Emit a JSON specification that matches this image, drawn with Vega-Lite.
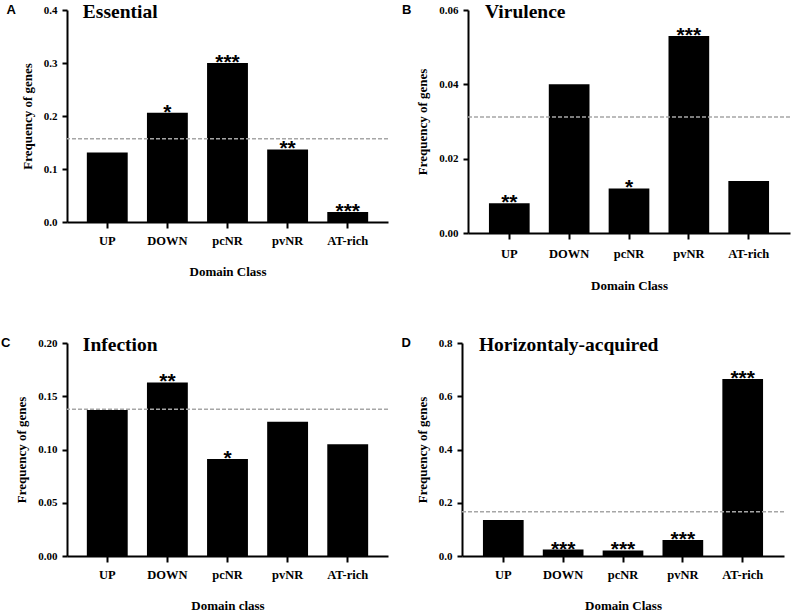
{
  "$schema": "https://vega.github.io/schema/vega-lite/v6.json",
  "padding": {"left": 0, "top": 2, "right": 0, "bottom": 0},
  "spacing": 42,
  "datasets": {
    "essential": [
      {"domain": "UP", "freq": 0.131, "sig": ""},
      {"domain": "DOWN", "freq": 0.206, "sig": "*"},
      {"domain": "pcNR", "freq": 0.300, "sig": "***"},
      {"domain": "pvNR", "freq": 0.137, "sig": "**"},
      {"domain": "AT-rich", "freq": 0.019, "sig": "***"}
    ],
    "virulence": [
      {"domain": "UP", "freq": 0.008, "sig": "**"},
      {"domain": "DOWN", "freq": 0.040, "sig": ""},
      {"domain": "pcNR", "freq": 0.012, "sig": "*"},
      {"domain": "pvNR", "freq": 0.053, "sig": "***"},
      {"domain": "AT-rich", "freq": 0.014, "sig": ""}
    ],
    "infection": [
      {"domain": "UP", "freq": 0.137, "sig": ""},
      {"domain": "DOWN", "freq": 0.163, "sig": "**"},
      {"domain": "pcNR", "freq": 0.091, "sig": "*"},
      {"domain": "pvNR", "freq": 0.126, "sig": ""},
      {"domain": "AT-rich", "freq": 0.105, "sig": ""}
    ],
    "horizontal": [
      {"domain": "UP", "freq": 0.135, "sig": ""},
      {"domain": "DOWN", "freq": 0.024, "sig": "***"},
      {"domain": "pcNR", "freq": 0.021, "sig": "***"},
      {"domain": "pvNR", "freq": 0.060, "sig": "***"},
      {"domain": "AT-rich", "freq": 0.665, "sig": "***"}
    ]
  },
  "vconcat": [
    {
      "spacing": 12,
      "hconcat": [
        {
          "width": 321, "height": 212,
          "title": {"text": "A"},
          "layer": [
            {
              "data": {"name": "essential"},
              "mark": {"type": "bar", "color": "black"},
              "encoding": {
                "x": {"field": "domain", "type": "nominal", "sort": null, "scale": {"paddingInner": 0.32, "paddingOuter": 0.33}, "axis": {"title": "Domain Class"}},
                "y": {"field": "freq", "type": "quantitative", "scale": {"domain": [0, 0.4], "nice": false}, "axis": {"title": "Frequency of genes", "values": [0, 0.1, 0.2, 0.3, 0.4], "format": ".1f"}}
              }
            },
            {
              "data": {"name": "essential"},
              "mark": {"type": "text", "font": "Liberation Sans", "fontWeight": "bold", "fontSize": 21, "baseline": "middle", "color": "black"},
              "encoding": {
                "x": {"field": "domain", "type": "nominal", "sort": null},
                "y": {"field": "freq", "type": "quantitative"},
                "text": {"field": "sig"}
              }
            },
            {
              "data": {"values": [{"expected": 0.157}]},
              "mark": {"type": "rule", "color": "#a6a6a6", "strokeWidth": 1.5, "strokeDash": [4, 2]},
              "encoding": {"y": {"field": "expected", "type": "quantitative"}}
            },
            {
              "data": {"values": [{"label": "Essential"}]},
              "mark": {"type": "text", "font": "Liberation Serif", "fontWeight": "bold", "fontSize": 19.5, "align": "left", "baseline": "middle", "dx": -4, "dy": 2, "color": "black"},
              "encoding": {
                "x": {"datum": "UP", "bandPosition": 0},
                "y": {"datum": 0.4},
                "text": {"field": "label"}
              }
            }
          ]
        },
        {
          "width": 322, "height": 223,
          "title": {"text": "B"},
          "layer": [
            {
              "data": {"name": "virulence"},
              "mark": {"type": "bar", "color": "black"},
              "encoding": {
                "x": {"field": "domain", "type": "nominal", "sort": null, "scale": {"paddingInner": 0.32, "paddingOuter": 0.35}, "axis": {"title": "Domain Class", "labelPadding": 8, "titlePadding": 20}},
                "y": {"field": "freq", "type": "quantitative", "scale": {"domain": [0, 0.06], "nice": false}, "axis": {"title": "Frequency of genes", "values": [0, 0.02, 0.04, 0.06], "format": ".2f"}}
              }
            },
            {
              "data": {"name": "virulence"},
              "mark": {"type": "text", "font": "Liberation Sans", "fontWeight": "bold", "fontSize": 21, "baseline": "middle", "color": "black"},
              "encoding": {
                "x": {"field": "domain", "type": "nominal", "sort": null},
                "y": {"field": "freq", "type": "quantitative"},
                "text": {"field": "sig"}
              }
            },
            {
              "data": {"values": [{"expected": 0.0312}]},
              "mark": {"type": "rule", "color": "#a6a6a6", "strokeWidth": 1.5, "strokeDash": [4, 2]},
              "encoding": {"y": {"field": "expected", "type": "quantitative"}}
            },
            {
              "data": {"values": [{"label": "Virulence"}]},
              "mark": {"type": "text", "font": "Liberation Serif", "fontWeight": "bold", "fontSize": 19.5, "align": "left", "baseline": "middle", "dx": -4, "dy": 2, "color": "black"},
              "encoding": {
                "x": {"datum": "UP", "bandPosition": 0},
                "y": {"datum": 0.06},
                "text": {"field": "label"}
              }
            }
          ]
        }
      ]
    },
    {
      "spacing": 12,
      "hconcat": [
        {
          "width": 321, "height": 213,
          "title": {"text": "C"},
          "layer": [
            {
              "data": {"name": "infection"},
              "mark": {"type": "bar", "color": "black"},
              "encoding": {
                "x": {"field": "domain", "type": "nominal", "sort": null, "scale": {"paddingInner": 0.32, "paddingOuter": 0.33}, "axis": {"title": "Domain class"}},
                "y": {"field": "freq", "type": "quantitative", "scale": {"domain": [0, 0.2], "nice": false}, "axis": {"title": "Frequency of genes", "values": [0, 0.05, 0.1, 0.15, 0.2], "format": ".2f"}}
              }
            },
            {
              "data": {"name": "infection"},
              "mark": {"type": "text", "font": "Liberation Sans", "fontWeight": "bold", "fontSize": 21, "baseline": "middle", "color": "black"},
              "encoding": {
                "x": {"field": "domain", "type": "nominal", "sort": null},
                "y": {"field": "freq", "type": "quantitative"},
                "text": {"field": "sig"}
              }
            },
            {
              "data": {"values": [{"expected": 0.1377}]},
              "mark": {"type": "rule", "color": "#a6a6a6", "strokeWidth": 1.5, "strokeDash": [4, 2]},
              "encoding": {"y": {"field": "expected", "type": "quantitative"}}
            },
            {
              "data": {"values": [{"label": "Infection"}]},
              "mark": {"type": "text", "font": "Liberation Serif", "fontWeight": "bold", "fontSize": 19.5, "align": "left", "baseline": "middle", "dx": -4, "dy": 2, "color": "black"},
              "encoding": {
                "x": {"datum": "UP", "bandPosition": 0},
                "y": {"datum": 0.2},
                "text": {"field": "label"}
              }
            }
          ]
        },
        {
          "width": 322, "height": 213,
          "title": {"text": "D"},
          "layer": [
            {
              "data": {"name": "horizontal"},
              "mark": {"type": "bar", "color": "black"},
              "encoding": {
                "x": {"field": "domain", "type": "nominal", "sort": null, "scale": {"paddingInner": 0.32, "paddingOuter": 0.35}, "axis": {"title": "Domain Class"}},
                "y": {"field": "freq", "type": "quantitative", "scale": {"domain": [0, 0.8], "nice": false}, "axis": {"title": "Frequency of genes", "values": [0, 0.2, 0.4, 0.6, 0.8], "format": ".1f"}}
              }
            },
            {
              "data": {"name": "horizontal"},
              "mark": {"type": "text", "font": "Liberation Sans", "fontWeight": "bold", "fontSize": 21, "baseline": "middle", "color": "black"},
              "encoding": {
                "x": {"field": "domain", "type": "nominal", "sort": null},
                "y": {"field": "freq", "type": "quantitative"},
                "text": {"field": "sig"}
              }
            },
            {
              "data": {"values": [{"expected": 0.1665}]},
              "mark": {"type": "rule", "color": "#a6a6a6", "strokeWidth": 1.5, "strokeDash": [4, 2]},
              "encoding": {"y": {"field": "expected", "type": "quantitative"}}
            },
            {
              "data": {"values": [{"label": "Horizontaly-acquired"}]},
              "mark": {"type": "text", "font": "Liberation Serif", "fontWeight": "bold", "fontSize": 19.5, "align": "left", "baseline": "middle", "dx": -4, "dy": 2, "color": "black"},
              "encoding": {
                "x": {"datum": "UP", "bandPosition": 0},
                "y": {"datum": 0.8},
                "text": {"field": "label"}
              }
            }
          ]
        }
      ]
    }
  ],
  "config": {
    "view": {"stroke": null},
    "title": {"orient": "left", "anchor": "end", "angle": 0, "baseline": "top", "align": "left", "font": "Liberation Sans", "fontWeight": "bold", "fontSize": 13, "color": "black", "offset": -4, "dy": 2},
    "axis": {
      "domainColor": "black", "domainWidth": 2, "tickColor": "black", "tickWidth": 2, "grid": false,
      "labelFont": "Liberation Serif", "labelFontWeight": "bold", "labelColor": "black",
      "titleFont": "Liberation Serif", "titleFontWeight": "bold", "titleColor": "black", "titleFontSize": 13
    },
    "axisX": {"labelAngle": 0, "labelFontSize": 12.5, "labelPadding": 6, "tickSize": 6, "titlePadding": 19},
    "axisY": {"labelFontSize": 11, "labelPadding": 5, "tickSize": 5, "titlePadding": 9}
  }
}
